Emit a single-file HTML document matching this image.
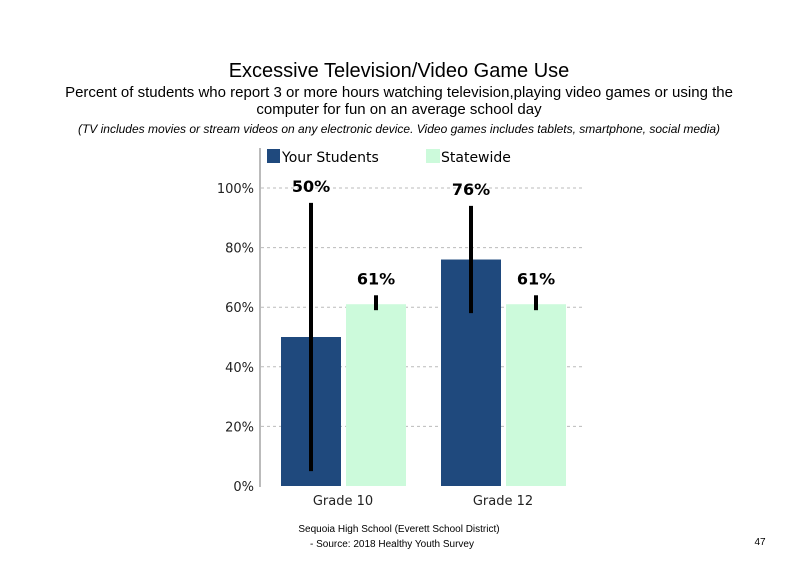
<!DOCTYPE html>
<html><head><meta charset="utf-8"><style>
body{margin:0;background:#fff;width:800px;height:568px;overflow:hidden;font-family:"Liberation Sans",Arial,sans-serif}
</style></head><body>
<svg width="800" height="568" xmlns="http://www.w3.org/2000/svg">
<text x="399" y="77" text-anchor="middle" font-size="20">Excessive Television/Video Game Use</text>
<text x="399" y="97" text-anchor="middle" font-size="15">Percent of students  who report 3 or more hours watching television,playing  video games  or using the</text>
<text x="399" y="114" text-anchor="middle" font-size="15">computer for fun on an average school day</text>
<text x="399" y="133" text-anchor="middle" font-size="12" font-style="italic">(TV includes movies or stream videos on any electronic device. Video games includes tablets, smartphone, social media)</text>
<g id="grid"></g>
<g id="yticks"></g>
<line x1="260" y1="148" x2="260" y2="487" stroke="#777" stroke-width="1"/>
<g id="bars"></g>
<rect x="267" y="149" width="13" height="14" fill="#1f497d"/>
<text x="282" y="162" font-size="14" font-family="DejaVu Sans, sans-serif">Your Students</text>
<rect x="426" y="149" width="14" height="14" fill="#ccfadb"/>
<text x="441" y="162" font-size="14" font-family="DejaVu Sans, sans-serif">Statewide</text>
<text x="399" y="532" text-anchor="middle" font-size="10">Sequoia High School (Everett School District)</text>
<text x="392" y="547" text-anchor="middle" font-size="10">- Source: 2018 Healthy Youth Survey</text>
<text x="760" y="545" text-anchor="middle" font-size="10">47</text>
</svg>
<script>
const categories=["Grade 10","Grade 12"];
const yourStudents=[50,76];
const statewide=[61,61];
const yourLow=[5,58];
const yourHigh=[95,94];
const stateLow=[59,59];
const stateHigh=[64,64];
const yTicks=[0,20,40,60,80,100];
const NS="http://www.w3.org/2000/svg";
function y(v){return 486-v*2.98;}
function groupX(i){return 281+i*160;}
const BW=60;
function mk(t,a,p){const e=document.createElementNS(NS,t);for(const k in a)e.setAttribute(k,a[k]);p.appendChild(e);return e;}
const grid=document.getElementById('grid'),yt=document.getElementById('yticks'),bars=document.getElementById('bars');
yTicks.forEach(v=>{
 if(v>0){const l=mk('line',{x1:261,x2:585,y1:y(v),y2:y(v),stroke:'#bbb','stroke-dasharray':'3,3'},grid);
 
 }
 const t=mk('text',{x:254,y:y(v)+5,'text-anchor':'end','font-size':13,'font-family':'DejaVu Sans, sans-serif',fill:'#222'},yt);
 t.textContent=v+'%';
 
 
});
categories.forEach((c,i)=>{
 const gx=groupX(i);
 [[yourStudents,yourLow,yourHigh,'#1f497d','your-students',gx],[statewide,stateLow,stateHigh,'#ccfadb','statewide',gx+65]].forEach(([vals,lo,hi,col,nm,x])=>{
  const r=mk('rect',{x:x,y:y(vals[i]),width:BW,height:y(0)-y(vals[i]),fill:col},bars);
  
  
  const e=mk('line',{x1:x+BW/2,x2:x+BW/2,y1:y(hi[i]),y2:y(lo[i]),stroke:'#000','stroke-width':4},bars);
  
  
  const t=mk('text',{x:x+BW/2,y:y(hi[i])-11,'text-anchor':'middle','font-size':16,'font-weight':'bold','font-family':'DejaVu Sans, sans-serif'},bars);
  t.textContent=vals[i]+'%';
  
  
 });
 const ct=mk('text',{x:gx+62,y:505,'text-anchor':'middle','font-size':13,'font-family':'DejaVu Sans, sans-serif',fill:'#222'},bars);
 ct.textContent=c;
 
 
});
</script>
</body></html>
